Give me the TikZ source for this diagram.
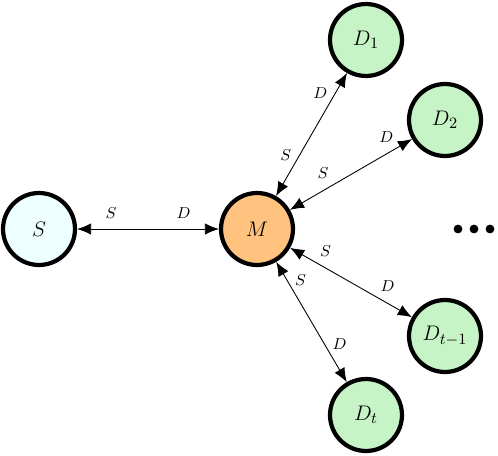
\documentclass[tikz,border=0pt]{standalone}
\usepackage{amsmath}
\usepackage{amssymb}
\usetikzlibrary{arrows.meta}
\definecolor{srcfill}{HTML}{EEFFFF}
\definecolor{relayfill}{HTML}{FFC27F}
\definecolor{dstfill}{HTML}{C6F4C6}
\tikzstyle{station} = [circle, draw=black, line width=2.4pt, minimum size=1.44cm, inner sep=0pt, font=\fontsize{13}{15}\selectfont]
\tikzstyle{link} = [{Latex[length=8pt,width=6.5pt]}-{Latex[length=8pt,width=6.5pt]}, line width=0.5pt]
\tikzstyle{tag} = [font=\fontsize{9}{11}\selectfont, inner sep=2pt]

\begin{document}
\begin{tikzpicture}[x=0.02cm, y=-0.02cm]
            \useasboundingbox (0,0) rectangle (498,456);
            % stations
            \node [station, fill=srcfill] (s) at (39,229) {$S$};
            \node [station, fill=relayfill] (m) at (257,229) {$M$};
            \node [station, fill=dstfill] (d1) at (366,40) {$D_1$};
            \node [station, fill=dstfill] (d2) at (445,120) {$D_2$};
            \node [station, fill=dstfill] (dt1) at (445,336) {$D_{t-1}$};
            \node [station, fill=dstfill] (dt) at (366,415) {$D_t$};
            % links
            \draw [link] (s) -- (m) node [tag, pos=0.24, above=4pt] {$S$} node [tag, pos=0.75, above=4pt] {$D$};
            \draw [link] (m) -- (d1) node [tag, pos=0.33, left=2.5pt] {$S$} node [tag, pos=0.84, left=2.5pt] {$D$};
            \draw [link] (m) -- (d2) node [tag, pos=0.27, above=4.5pt] {$S$} node [tag, pos=0.79, above=4.5pt] {$D$};
            \draw [link] (m) -- (dt1) node [tag, pos=0.29, above=4.5pt] {$S$} node [tag, pos=0.80, above=4.5pt] {$D$};
            \draw [link] (m) -- (dt) node [tag, pos=0.15, right=2.5pt] {$S$} node [tag, pos=0.68, right=2.5pt] {$D$};
            % dots
            \foreach \x in {458,474,490}
                \fill [black] (\x,229) circle (2.5pt);
\end{tikzpicture}
\end{document}
